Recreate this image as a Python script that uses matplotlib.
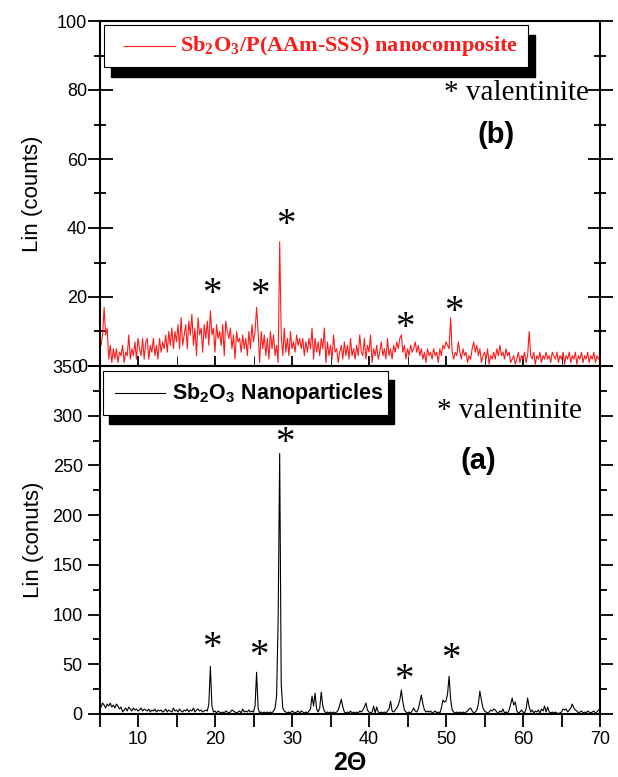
import matplotlib
matplotlib.use('Agg')
import matplotlib.pyplot as plt
from matplotlib.patches import Rectangle
from matplotlib.lines import Line2D
from matplotlib.ticker import MultipleLocator
import numpy as np

# scan grid: 5 to 70 deg, step 0.2
two_theta = np.round(np.arange(5.0, 70.0001, 0.2), 1)

# (b) Sb2O3/P(AAm-SSS) nanocomposite
counts_b = [
    7, 6, 9, 17, 9, 11, 2, 6, 1, 5,
    2, 5, 1, 4, 3, 6, 1, 4, 3, 9,
    2, 5, 3, 7, 2, 8, 5, 3, 8, 2,
    7, 8, 2, 6, 4, 8, 3, 6, 2, 8,
    4, 7, 5, 9, 4, 10, 6, 11, 5, 10,
    7, 12, 5, 14, 6, 9, 12, 5, 13, 9,
    15, 6, 11, 3, 14, 9, 11, 4, 12, 8,
    13, 6, 16, 9, 11, 4, 12, 8, 10, 6,
    12, 3, 13, 10, 8, 11, 5, 9, 2, 10,
    7, 8, 4, 9, 5, 8, 3, 10, 5, 12,
    7, 10, 17, 10, 1, 10, 5, 9, 3, 8,
    2, 10, 5, 9, 3, 6, 1, 36, 9, 3,
    11, 4, 8, 3, 10, 5, 7, 4, 9, 6,
    8, 5, 8, 3, 7, 4, 8, 5, 11, 2,
    8, 4, 7, 3, 8, 5, 11, 1, 7, 3,
    6, 2, 9, 4, 5, 1, 4, 6, 2, 7,
    3, 6, 2, 8, 3, 5, 2, 6, 3, 9,
    4, 3, 8, 2, 6, 4, 9, 1, 5, 3,
    6, 2, 4, 7, 3, 5, 2, 8, 3, 5,
    2, 6, 4, 7, 5, 8, 9, 4, 6, 2,
    5, 3, 6, 4, 5, 7, 4, 6, 3, 5,
    2, 4, 1, 5, 3, 4, 2, 5, 3, 4,
    1, 5, 3, 6, 5, 7, 6, 5, 14, 4,
    2, 4, 3, 7, 4, 2, 5, 3, 4, 1,
    3, 2, 5, 7, 4, 6, 3, 5, 1, 3,
    4, 2, 5, 0.5, 3, 2, 4, 2, 5, 3,
    6, 3, 4, 2, 5, 3, 4, 1, 2, 3,
    0.5, 2, 4, 1, 3, 2, 4, 1, 3, 10,
    3, 2, 4, 0.5, 3, 2, 4, 1, 3, 2,
    4, 2, 3, 1, 4, 3, 2, 4, 1, 3,
    2, 4, 0.5, 3, 2, 4, 1, 3, 2, 4,
    0.5, 3, 2, 4, 1, 3, 2, 4, 1, 3,
    2, 4, 1, 3, 2, 3,
]

# (a) Sb2O3 nanoparticles
counts_a = [
    10, 7, 11, 9, 6, 10, 8, 11, 7, 9,
    6, 10, 8, 5, 7, 2, 4, 6, 3, 7,
    5, 3, 6, 4, 5, 3, 4, 6, 3, 5,
    4, 3, 5, 2, 4, 3, 5, 2, 4, 3,
    4, 2, 3, 5, 2, 4, 3, 2, 6, 3,
    4, 2, 5, 3, 2, 4, 3, 5, 2, 4,
    3, 6, 2, 4, 5, 3, 4, 2, 3, 4,
    3, 10, 48, 8, 2, 3, 1, 3, 2, 1,
    2, 1, 3, 2, 1, 2, 4, 3, 2, 1,
    2, 3, 1, 5, 2, 3, 2, 4, 2, 3,
    2, 8, 42, 6, 1, 2, 1, 2, 1, 2,
    1, 2, 1, 3, 6, 18, 95, 262, 30, 6,
    3, 2, 1, 2, 1, 3, 2, 1, 2, 3,
    1, 3, 2, 1, 2, 1, 3, 5, 18, 8,
    21, 5, 2, 6, 22, 8, 3, 1, 2, 1,
    2, 1, 2, 1, 2, 4, 9, 15, 7, 2,
    1, 2, 1, 3, 1, 2, 1, 2, 1, 3,
    2, 4, 7, 11, 4, 2, 1, 2, 8, 1,
    7, 2, 1, 2, 1, 2, 1, 3, 5, 13,
    3, 2, 4, 6, 9, 14, 24, 12, 4, 2,
    1, 2, 1, 3, 6, 3, 2, 5, 12, 19,
    10, 4, 2, 3, 2, 3, 1, 2, 3, 1,
    2, 1, 6, 14, 12, 13, 20, 38, 15, 4,
    2, 1, 2, 1, 2, 1, 2, 1, 2, 3,
    5, 6, 3, 1, 2, 4, 10, 23, 14, 6,
    3, 2, 1, 2, 4, 3, 5, 4, 2, 1,
    3, 2, 5, 1, 2, 1, 4, 10, 16, 9,
    12, 3, 1, 2, 4, 2, 1, 5, 16, 7,
    2, 4, 1, 3, 2, 4, 1, 5, 3, 8,
    2, 7, 2, 1, 2, 1, 2, 1, 0.5, 1,
    2, 5, 4, 5, 2, 4, 6, 10, 6, 4,
    3, 1, 2, 3, 1, 2, 1, 3, 2, 1,
    2, 3, 1, 2, 4, 3,
]

# peak positions marked as valentinite (x, y of the star)
stars_b_x = [19.6, 25.8, 29.2, 44.7, 51.0]
stars_b_y = [20.7, 20.3, 40.7, 11.0, 15.4]
stars_a_x = [19.6, 25.7, 29.1, 44.5, 50.6]
stars_a_y = [66, 58, 272, 34, 55]

plt.rcParams['font.family'] = ['Liberation Sans', 'DejaVu Sans']
plt.rcParams['mathtext.fontset'] = 'custom'
plt.rcParams['mathtext.bf'] = 'Liberation Serif:bold'
plt.rcParams['mathtext.sf'] = 'Liberation Sans:bold'

W, H = 618, 777
fig = plt.figure(figsize=(W / 100, H / 100), dpi=100)


def fx(x):
    return x / W


def fy(y):
    return 1 - y / H


ax_b = fig.add_axes([fx(99.5), fy(366), 500.5 / W, 345 / H])
ax_a = fig.add_axes([fx(99.5), fy(714), 500.5 / W, 348 / H])

ax_b.plot(two_theta, counts_b, color='#ff1a1a', lw=0.8)
ax_a.plot(two_theta, counts_a, color='black', lw=0.8)

for ax in (ax_b, ax_a):
    ax.set_xlim(5, 70)
    for s in ax.spines.values():
        s.set_linewidth(1.5)
    ax.tick_params(labelsize=13, width=1.3)
    ax.tick_params(axis='y', which='major', length=9, pad=3)
    ax.tick_params(axis='y', which='minor', length=5, width=1.3)
    ax.xaxis.set_major_locator(MultipleLocator(10))
    ax.xaxis.set_minor_locator(MultipleLocator(5))

# top panel
ax_b.set_ylim(0, 100)
ax_b.yaxis.set_major_locator(MultipleLocator(20))
ax_b.yaxis.set_minor_locator(MultipleLocator(10))
ax_b.tick_params(axis='y', which='both', direction='inout', right=True)
ax_b.tick_params(axis='y', which='minor', length=8)
ax_b.tick_params(axis='y', which='major', length=18, pad=0)
ax_b.tick_params(axis='x', which='both', direction='in', length=7, labelbottom=False)
ax_b.set_ylabel('Lin (counts)', fontsize=16, labelpad=10)

# bottom panel
ax_a.set_ylim(0, 350)
ax_a.yaxis.set_major_locator(MultipleLocator(50))
ax_a.yaxis.set_minor_locator(MultipleLocator(25))
ax_a.tick_params(axis='y', which='both', direction='out')
ax_a.tick_params(axis='x', which='both', direction='out', length=9, width=1.3)
ax_a.tick_params(axis='y', which='both', right=True)
ax_a.set_ylabel('Lin (conuts)', fontsize=16, labelpad=6)
ax_a.set_xlabel('2\u0398', fontsize=18, fontweight='bold', labelpad=2)

for x, y in zip(stars_b_x, stars_b_y):
    ax_b.text(x, y, '*', fontsize=28, family='Liberation Serif', ha='center', va='center')
for x, y in zip(stars_a_x, stars_a_y):
    ax_a.text(x, y, '*', fontsize=28, family='Liberation Serif', ha='center', va='center')

ax_b.text(59.2, 79, '* valentinite', fontsize=21, family='Liberation Serif', ha='center', va='center')
ax_a.text(58.2, 305, '* valentinite', fontsize=21, family='Liberation Serif', ha='center', va='center')
ax_b.text(56.5, 67, '(b)', fontsize=21, fontweight='bold', ha='center', va='center')
ax_a.text(54.2, 254, '(a)', fontsize=21, fontweight='bold', ha='center', va='center')


def legend_box(x0, y0, x1, y1, dx, dy):
    fig.add_artist(Rectangle((fx(x0 + dx), fy(y1 + dy)), (x1 - x0) / W, (y1 - y0) / H,
                             transform=fig.transFigure, facecolor='black', edgecolor='black', zorder=5))
    fig.add_artist(Rectangle((fx(x0), fy(y1)), (x1 - x0) / W, (y1 - y0) / H,
                             transform=fig.transFigure, facecolor='white', edgecolor='black',
                             lw=0.8, zorder=6))


legend_box(104, 25, 528, 67, 7, 10)
fig.add_artist(Line2D([fx(124), fx(175)], [fy(46), fy(46)], color='#ff1a1a', lw=0.8,
                      transform=fig.transFigure, zorder=7))
fig.text(fx(180), fy(46), r'Sb$_\mathbf{2}$O$_\mathbf{3}$/P(AAm-SSS) nanocomposite', color='#ff1a1a',
         fontsize=16, fontweight='bold', family='Liberation Serif', va='center', zorder=7)

legend_box(103, 371, 388, 415, 6, 9)
fig.add_artist(Line2D([fx(115), fx(165)], [fy(393), fy(393)], color='black', lw=0.8,
                      transform=fig.transFigure, zorder=7))
fig.text(fx(172), fy(393), r'Sb$_\mathsf{2}$O$_\mathsf{3}$ Nanoparticles', color='black',
         fontsize=15.5, fontweight='bold', va='center', zorder=7)

fig.savefig('out.png', dpi=100)
